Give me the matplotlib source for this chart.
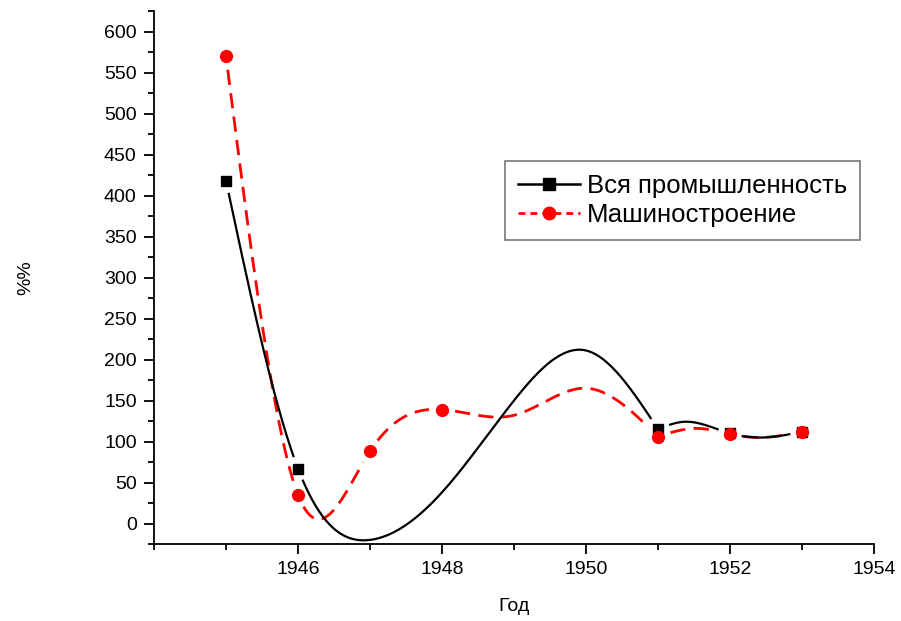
import numpy as np
import matplotlib
matplotlib.use("Agg")
import matplotlib.pyplot as plt

plt.rcParams['font.family'] = ['Liberation Sans', 'DejaVu Sans']

# Marked data points (markers drawn)
years_all = [1945, 1946, 1951, 1952, 1953]
vals_all = [418, 67, 115, 110, 112]
years_mach = [1945, 1946, 1947, 1948, 1951, 1952, 1953]
vals_mach = [570, 35, 88, 139, 106, 109, 112]

# Extra curve knots read off the drawn spline (no markers in the original)
knots_all_x = [1947, 1948, 1949, 1950, 1951.35, 1952.5]
knots_all_y = [-20, 38, 150, 211, 124, 105]
knots_mach_x = [1949, 1950, 1951.55, 1952.45]
knots_mach_y = [132, 165, 116, 105]

break_year = 1951  # the curves show a kink here
label_all = "Вся промышленность"
label_mach = "Машиностроение"


def natural_spline(x, y, xs):
    x = np.asarray(x, float); y = np.asarray(y, float)
    n = len(x)
    h = np.diff(x)
    A = np.zeros((n, n)); b = np.zeros(n)
    A[0, 0] = 1; A[-1, -1] = 1
    for i in range(1, n - 1):
        A[i, i - 1] = h[i - 1]
        A[i, i] = 2 * (h[i - 1] + h[i])
        A[i, i + 1] = h[i]
        b[i] = 6 * ((y[i + 1] - y[i]) / h[i] - (y[i] - y[i - 1]) / h[i - 1])
    M = np.linalg.solve(A, b)
    idx = np.clip(np.searchsorted(x, xs) - 1, 0, n - 2)
    x0 = x[idx]; x1 = x[idx + 1]; hh = x1 - x0
    t0 = x1 - xs; t1 = xs - x0
    return (M[idx] * t0**3 / (6 * hh) + M[idx + 1] * t1**3 / (6 * hh)
            + (y[idx] / hh - M[idx] * hh / 6) * t0
            + (y[idx + 1] / hh - M[idx + 1] * hh / 6) * t1)


fig = plt.figure(figsize=(9.01, 6.21), dpi=100)
ax = fig.add_axes([154 / 901, 1 - 544 / 621, (874 - 154) / 901, (544 - 11) / 621])
ax.set_xlim(1944, 1954)
ax.set_ylim(-25, 625)


def curve(mx, my, kx, ky, r):
    x = np.array(list(mx) + list(kx), float)
    y = np.array(list(my) + list(ky), float)
    o = np.argsort(x); x = x[o]; y = y[o]
    xs_list, ys_list = [], []
    for sel in (x <= break_year, x >= break_year):
        xx = np.linspace(x[sel].min(), x[sel].max(), 2000)
        xs_list.append(xx)
        ys_list.append(natural_spline(x[sel], y[sel], xx))
    xs = np.concatenate([xs_list[0], [np.nan], xs_list[1]])
    ys = np.concatenate([ys_list[0], [np.nan], ys_list[1]])
    d = ax.transData.transform(np.column_stack([xs, ys]))
    m = ax.transData.transform(np.column_stack([mx, my]))
    mask = np.zeros(len(xs), bool)
    for p in m:
        mask |= np.hypot(d[:, 0] - p[0], d[:, 1] - p[1]) < r
    ys[mask] = np.nan
    return xs, ys


xs, ys = curve(years_all, vals_all, knots_all_x, knots_all_y, 13)
ax.plot(xs, ys, color='black', lw=1.6, zorder=3)
ax.plot(years_all, vals_all, 's', color='black', ms=7.5, zorder=4)

xs2, ys2 = curve(years_mach, vals_mach, knots_mach_x, knots_mach_y, 13)
ax.plot(xs2, ys2, color='#ff0000', lw=2.0, dashes=(5.5, 3), zorder=2)
ax.plot(years_mach, vals_mach, 'o', color='#ff0000', ms=8.5, zorder=4)

h1, = ax.plot([], [], '-s', color='black', lw=1.8, ms=8)
h2, = ax.plot([], [], 'o', color='#ff0000', ms=9, ls=(0, (2.5, 1.8)), lw=2.0)
leg = ax.legend([h1, h2], [label_all, label_mach], loc='upper left',
                bbox_to_anchor=(505 / 901, 1 - 161 / 621), bbox_transform=fig.transFigure,
                fontsize=18.5, frameon=True, fancybox=False, edgecolor='#555555',
                handlelength=2.4, handletextpad=0.3, borderpad=0.5, labelspacing=0.2,
                borderaxespad=0)
leg.get_frame().set_linewidth(1.2)

for s in ['top', 'right']:
    ax.spines[s].set_visible(False)
for s in ['left', 'bottom']:
    ax.spines[s].set_linewidth(1.3)

ax.set_yticks(np.arange(0, 601, 50))
ax.set_yticks(np.arange(-25, 626, 25), minor=True)
ax.set_xticks([1946, 1948, 1950, 1952, 1954])
ax.set_xticks(np.arange(1944, 1955, 1), minor=True)
ax.tick_params(which='major', length=7.5, width=1.3, labelsize=14, direction='out', pad=5)
ax.tick_params(which='minor', length=4, width=1.3, direction='out')

ax.set_xlabel("Год", fontsize=14, labelpad=14)
ax.set_ylabel("%%", fontsize=14, labelpad=50)

fig.savefig("out.png", dpi=100)
